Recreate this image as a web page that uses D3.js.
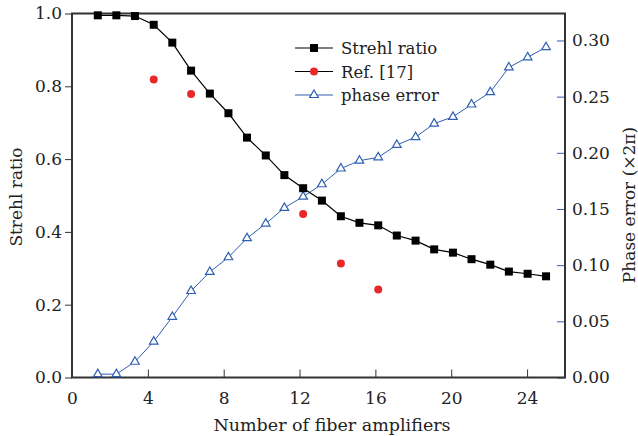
<!DOCTYPE html>
<html>
<head>
<meta charset="utf-8">
<script src="https://cdn.jsdelivr.net/npm/d3@7"></script>
<style>
  body { margin: 0; background: #fff; }
  text { font-family: "DejaVu Serif", serif; fill: #222; }
</style>
</head>
<body>
<div id="chart"></div>
<script>
const svgWidth = 638
const svgHeight = 436

// amplifier counts (as plotted)
const amplifiers = [1.36, 2.34, 3.32, 4.31, 5.29, 6.28, 7.27, 8.25, 9.23, 10.22, 11.20, 12.19, 13.18,
  14.18, 15.16, 16.15, 17.13, 18.12, 19.10, 20.09, 21.07, 22.06, 23.04, 24.03, 25.00]
const strehl = [0.995, 0.995, 0.993, 0.969, 0.920, 0.843, 0.780, 0.726, 0.659, 0.610, 0.556, 0.520, 0.486,
  0.443, 0.425, 0.418, 0.390, 0.376, 0.352, 0.343, 0.325, 0.310, 0.291, 0.285, 0.278]
const phaseError = [0.003, 0.003, 0.014, 0.032, 0.054, 0.077, 0.094, 0.107, 0.124, 0.137, 0.151, 0.161, 0.172,
  0.186, 0.193, 0.196, 0.207, 0.214, 0.226, 0.232, 0.243, 0.254, 0.276, 0.285, 0.294]
const refX = [4.31, 6.28, 12.19, 14.18, 16.15]
const refStrehl = [0.819, 0.779, 0.449, 0.313, 0.242]

const xTicks = [0, 4, 8, 12, 16, 20, 24]
const yTicks = [0.0, 0.2, 0.4, 0.6, 0.8, 1.0]
const y2Ticks = [0.00, 0.05, 0.10, 0.15, 0.20, 0.25, 0.30]

const black = "#000"
const red = "#e8292c"
const blue = "#2f5fb2"
const axisColor = "#333"
const fontSize = 17

let svg = d3.select("#chart").append("svg")
  .attr("width", svgWidth)
  .attr("height", svgHeight)

let x = d3.scaleLinear().domain([0, 26]).range([72, 565])
let y = d3.scaleLinear().domain([0, 1]).range([377.5, 13.5])
let y2 = d3.scaleLinear().domain([0, 0.324]).range([377.5, 13.5])

// bottom axis, ticks point inward
let xAxis = svg.append("g")
  .attr("transform", "translate(0,377.5)")
  .call(d3.axisBottom(x).tickValues(xTicks).tickSizeInner(-8).tickSizeOuter(0).tickPadding(14).tickFormat(d3.format("d")))
// left axis, ticks outward
let yAxis = svg.append("g")
  .attr("transform", "translate(72,0)")
  .call(d3.axisLeft(y).tickValues(yTicks).tickSizeInner(7).tickSizeOuter(0).tickPadding(3).tickFormat(d3.format(".1f")))
// right axis, blue ticks inward
let y2Axis = svg.append("g")
  .attr("transform", "translate(565,0)")
  .call(d3.axisRight(y2).tickValues(y2Ticks).tickSizeInner(-8).tickSizeOuter(0).tickPadding(7).tickFormat(d3.format(".2f")))

;[xAxis, yAxis, y2Axis].forEach(a => {
  a.select(".domain").remove()
  a.selectAll("text").attr("font-size", fontSize).attr("font-family", "DejaVu Serif").attr("fill", "#222")
  a.selectAll(".tick line").attr("stroke", axisColor).attr("stroke-width", 1)
})
y2Axis.selectAll(".tick line").attr("stroke", blue)

// frame
svg.append("rect")
  .attr("x", 72).attr("y", 13.5)
  .attr("width", 565 - 72).attr("height", 377.5 - 13.5)
  .attr("fill", "none").attr("stroke", axisColor).attr("stroke-width", 2)

// phase error series
svg.append("path")
  .datum(amplifiers.map((a, i) => [a, phaseError[i]]))
  .attr("fill", "none").attr("stroke", blue).attr("stroke-width", 1)
  .attr("d", d3.line().x(d => x(d[0])).y(d => y2(d[1])))

let tri = d3.symbol().type(d3.symbolTriangle).size(32)
svg.selectAll("path.tri")
  .data(amplifiers.map((a, i) => [a, phaseError[i]]))
  .enter().append("path")
  .attr("class", "tri")
  .attr("d", tri)
  .attr("transform", d => `translate(${x(d[0])},${y2(d[1])})`)
  .attr("fill", "#fff").attr("stroke", blue).attr("stroke-width", 1.2)

// strehl ratio series
svg.append("path")
  .datum(amplifiers.map((a, i) => [a, strehl[i]]))
  .attr("fill", "none").attr("stroke", black).attr("stroke-width", 1.2)
  .attr("d", d3.line().x(d => x(d[0])).y(d => y(d[1])))

svg.selectAll("rect.sq")
  .data(amplifiers.map((a, i) => [a, strehl[i]]))
  .enter().append("rect")
  .attr("class", "sq")
  .attr("x", d => x(d[0]) - 4).attr("y", d => y(d[1]) - 4)
  .attr("width", 8).attr("height", 8)
  .attr("fill", black)

// Ref. [17]
svg.selectAll("circle.ref")
  .data(refX.map((a, i) => [a, refStrehl[i]]))
  .enter().append("circle")
  .attr("class", "ref")
  .attr("cx", d => x(d[0])).attr("cy", d => y(d[1]))
  .attr("r", 4).attr("fill", red)

// legend
let legend = svg.append("g").attr("transform", "translate(295,48)")
let items = [
  { label: "Strehl ratio", line: black, mark: "square" },
  { label: "Ref. [17]", line: black, mark: "circle" },
  { label: "phase error", line: blue, mark: "triangle" }
]
items.forEach((it, i) => {
  let g = legend.append("g").attr("transform", `translate(0,${i * 23.5})`)
  g.append("line").attr("x1", 0).attr("x2", 38).attr("y1", 0).attr("y2", 0)
    .attr("stroke", it.line).attr("stroke-width", 1.2)
  if (it.mark === "square") {
    g.append("rect").attr("x", 15).attr("y", -4).attr("width", 8).attr("height", 8).attr("fill", black)
  } else if (it.mark === "circle") {
    g.append("circle").attr("cx", 19).attr("cy", 0).attr("r", 4).attr("fill", red)
  } else {
    g.append("path").attr("d", tri).attr("transform", "translate(19,0)")
      .attr("fill", "#fff").attr("stroke", blue).attr("stroke-width", 1.2)
  }
  g.append("text").attr("x", 46).attr("y", 6).attr("font-size", 16.5).text(it.label)
})

// axis titles
svg.append("text")
  .attr("x", 332).attr("y", 431)
  .attr("text-anchor", "middle").attr("font-size", 17.5)
  .text("Number of fiber amplifiers")

svg.append("text")
  .attr("transform", "translate(22,197) rotate(-90)")
  .attr("text-anchor", "middle").attr("font-size", 17)
  .text("Strehl ratio")

svg.append("text")
  .attr("transform", "translate(635,205) rotate(-90)")
  .attr("text-anchor", "middle").attr("font-size", 17)
  .text("Phase error (×2π)")
</script>
</body>
</html>
